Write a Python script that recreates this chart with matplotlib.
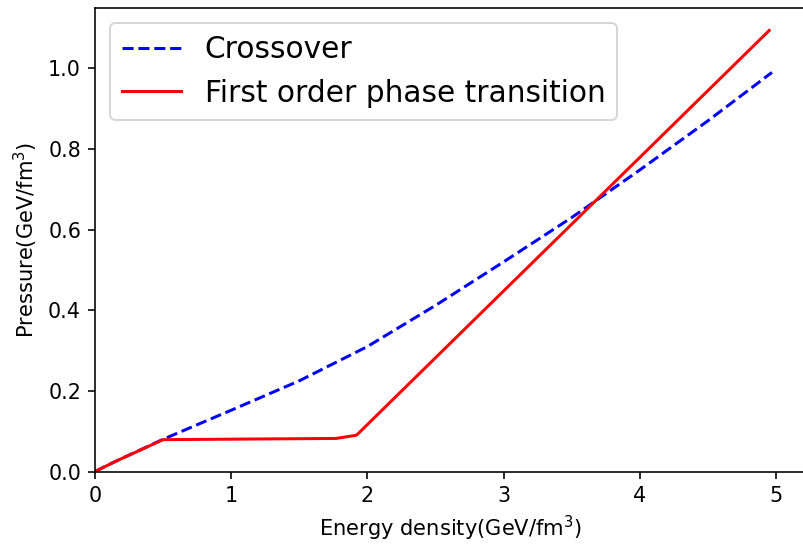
import matplotlib
matplotlib.use('Agg')
import matplotlib.pyplot as plt

# crossover equation of state
crossover_e = [0, 0.15, 0.5, 1.0, 1.5, 2.0, 2.5, 3.0, 3.5, 4.0, 4.5, 4.97]
crossover_p = [0, 0.025, 0.08, 0.152, 0.225, 0.31, 0.412, 0.52, 0.63, 0.748, 0.87, 0.99]

# first order phase transition
first_order_e = [0, 0.15, 0.5, 1.77, 1.92, 4.95]
first_order_p = [0, 0.025, 0.079, 0.082, 0.09, 1.094]

fig = plt.figure(figsize=(803 / 144, 544 / 144), dpi=144)
ax = fig.add_axes([95 / 803, 1 - 471.5 / 544, 711 / 803, 463.2 / 544])

ax.plot(crossover_e, crossover_p, 'b--', label='Crossover')
ax.plot(first_order_e, first_order_p, 'r-', label='First order phase transition')

ax.set_xlim(0, 5.22)
ax.set_ylim(0, 1.149)
ax.set_xlabel('Energy density(GeV/fm$^3$)', fontsize=10.5)
ax.set_ylabel('Pressure(GeV/fm$^3$)', fontsize=10.5)
ax.tick_params(labelsize=10.3)
ax.legend(loc='upper left', fontsize=14.8)

fig.savefig('out.png', dpi=144)
